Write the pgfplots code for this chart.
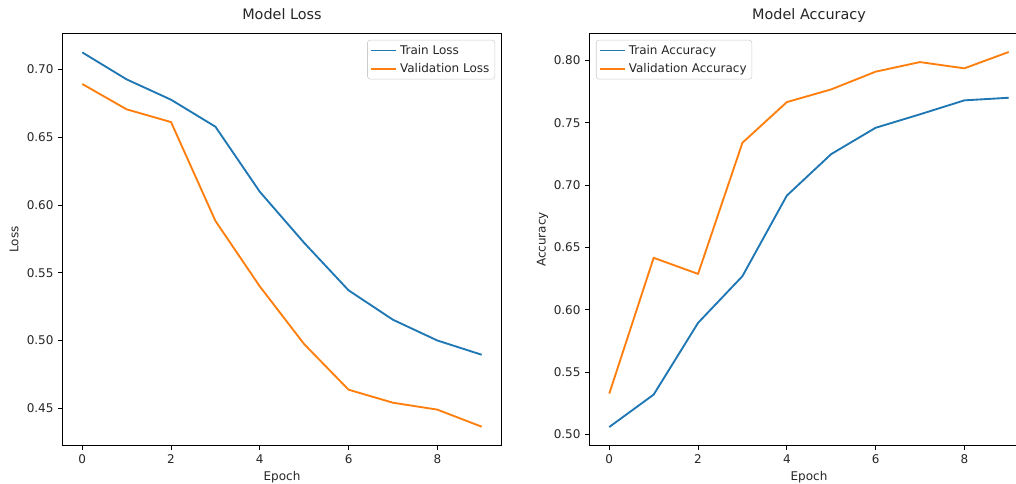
\documentclass[border=0pt]{standalone}
\usepackage{fontspec}
\setmainfont{DejaVu Sans}
\usepackage{pgfplots}
\pgfplotsset{compat=1.18}
\definecolor{tabblue}{HTML}{1F77B4}
\definecolor{taborange}{HTML}{FF7F0E}
\pgfplotsset{
  mpl/.style={
    scale only axis,
    width=329.55pt, height=309.3pt,
    anchor=south west,
    xmin=-0.45, xmax=9.45,
    xtick={0,2,4,6,8},
    xtick pos=lower, ytick pos=left,
    tick align=outside,
    major tick length=3.07pt,
    tick style={black, line width=0.6pt},
    axis line style={line width=0.6pt},
    every axis plot/.append style={line width=1.4pt, line join=round},
    /pgf/number format/assume math mode=true,
    tick label style={font=\fontsize{9}{10}\selectfont, text=black!85},
    yticklabel style={/pgf/number format/fixed, /pgf/number format/fixed zerofill, /pgf/number format/precision=2},
    title style={font=\fontsize{10.8}{12}\selectfont, at={(axis description cs:0.5,1.0152)}, anchor=base, inner sep=0pt, text=black!85},
    xlabel style={font=\fontsize{9}{10}\selectfont, at={(axis description cs:0.5,-0.0620)}, anchor=north, inner sep=0pt, text=black!85},
    ylabel style={font=\fontsize{9}{10}\selectfont, at={(axis description cs:-0.0997,0.5)}, anchor=base, inner sep=0pt, text=black!85},
    legend cell align=left,
    legend image code/.code={\draw[#1, line width=1.4pt] (0pt,0pt) -- (19pt,0pt);},
    legend style={font=\fontsize{9}{10}\selectfont, draw=black!20, rounded corners=2pt, fill=white, fill opacity=0.8, text opacity=1, inner xsep=2pt, inner ysep=1.5pt, row sep=1.5pt, text=black!85},
  }
}
\begin{document}
\begin{tikzpicture}
\useasboundingbox (0,0) rectangle (762pt,362.25pt);
\clip (0,0) rectangle (762pt,362.25pt);
\begin{axis}[mpl, at={(46.73pt,27.98pt)},
  ymin=0.4224, ymax=0.7266,
  ytick={0.45,0.50,0.55,0.60,0.65,0.70},
  title={Model Loss}, xlabel={Epoch}, ylabel={Loss},
  legend style={at={(1,1)}, anchor=north east, xshift=-5pt, yshift=-5pt}]
\addplot[tabblue] coordinates {(0,0.7125) (1,0.6926) (2,0.6776) (3,0.6577) (4,0.6097) (5,0.5720) (6,0.5370) (7,0.5153) (8,0.5000) (9,0.4895)};
\addlegendentry{Train Loss}
\addplot[taborange] coordinates {(0,0.6892) (1,0.6705) (2,0.6611) (3,0.5882) (4,0.5399) (5,0.4973) (6,0.4637) (7,0.4541) (8,0.4490) (9,0.4364)};
\addlegendentry{Validation Loss}
\end{axis}
\begin{axis}[mpl, at={(441.98pt,27.98pt)},
  ymin=0.4909, ymax=0.8217,
  ytick={0.50,0.55,0.60,0.65,0.70,0.75,0.80},
  title={Model Accuracy}, xlabel={Epoch}, ylabel={Accuracy},
  legend style={at={(0,1)}, anchor=north west, xshift=5pt, yshift=-5pt}]
\addplot[tabblue] coordinates {(0,0.5059) (1,0.5319) (2,0.5894) (3,0.6269) (4,0.6915) (5,0.7248) (6,0.7459) (7,0.7567) (8,0.7679) (9,0.7700)};
\addlegendentry{Train Accuracy}
\addplot[taborange] coordinates {(0,0.5327) (1,0.6416) (2,0.6287) (3,0.7339) (4,0.7665) (5,0.7767) (6,0.7909) (7,0.7986) (8,0.7936) (9,0.8067)};
\addlegendentry{Validation Accuracy}
\end{axis}
\end{tikzpicture}
\end{document}
